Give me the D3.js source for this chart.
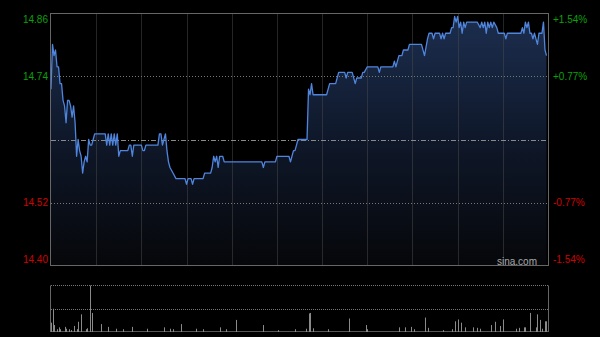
<!DOCTYPE html>
<html><head><meta charset="utf-8">
<script src="https://cdn.jsdelivr.net/npm/d3@7/dist/d3.min.js"></script>
<style>html,body{margin:0;padding:0;background:#000;}svg{display:block;}</style>
</head><body>
<svg id="c" width="600" height="337"></svg>
<script>
// ---- data ----
const prevClose = 14.63;
const pctTicks = [1.54, 0.77, -0.77, -1.54];
const priceLabels = ["14.86", "14.74", "14.52", "14.40"];
const pctLabels = ["+1.54%", "+0.77%", "-0.77%", "-1.54%"];
const timeGrid = [30, 60, 90, 120, 150, 180, 210, 240, 270, 300];
const minutes = [0,1,2,3,4,5,6,7,8,9,10,11,12,13,14,15,16,17,18,19,20,21,22,23,24,25,26,27,28,29,
  36,37,38,39,40,41,42,43,44,45,46,51,52,53,54,55,60,61,62,63,71,72,73,74,75,76,77,78,79,81,83,
  89,90,91,93,94,95,101,102,106,107,108,109,110,111,112,114,115,139,140,141,142,149,150,158,159,160,161,162,163,164,
  170,171,172,173,174,183,185,189,191,195,196,197,200,202,203,206,207,208,210,217,218,219,227,228,229,231,233,234,237,238,246,248,
  250,251,253,254,255,258,259,260,261,262,265,266,267,268,269,270,271,272,273,274,275,276,283,285,286,287,288,289,290,291,292,293,294,296,297,
  301,302,303,312,313,314,315,316,317,318,319,320,321,322,323,324,326,327,328,329];
const prices = [14.72,14.80,14.78,14.79,14.76,14.76,14.73,14.73,14.70,14.69,14.66,14.70,14.70,14.69,14.67,14.69,14.66,14.60,14.63,14.61,14.60,14.57,14.59,14.60,14.59,14.63,14.62,14.62,14.63,14.64,
  14.64,14.62,14.64,14.62,14.64,14.62,14.64,14.62,14.64,14.60,14.61,14.61,14.62,14.62,14.60,14.62,14.62,14.61,14.61,14.62,14.62,14.64,14.64,14.62,14.63,14.64,14.61,14.59,14.58,14.57,14.56,
  14.56,14.55,14.56,14.56,14.55,14.56,14.56,14.57,14.57,14.58,14.60,14.59,14.60,14.58,14.60,14.60,14.59,14.59,14.59,14.58,14.59,14.59,14.60,14.60,14.59,14.60,14.61,14.61,14.62,14.63,
  14.63,14.72,14.71,14.73,14.71,14.71,14.73,14.73,14.75,14.75,14.74,14.75,14.75,14.73,14.74,14.74,14.75,14.75,14.76,14.76,14.75,14.76,14.76,14.77,14.76,14.78,14.78,14.79,14.79,14.80,14.80,14.78,
  14.81,14.82,14.82,14.81,14.82,14.82,14.81,14.82,14.81,14.82,14.82,14.83,14.83,14.85,14.84,14.85,14.83,14.84,14.82,14.84,14.83,14.84,14.84,14.83,14.84,14.83,14.84,14.82,14.84,14.83,14.84,14.83,14.84,14.83,14.82,
  14.82,14.81,14.82,14.82,14.83,14.82,14.84,14.83,14.84,14.82,14.82,14.81,14.82,14.81,14.80,14.82,14.82,14.84,14.79,14.78];
const volMinutes = [0,1,2,4,5,6,9,10,12,13,15,17,18,20,23,24,26,27,33,38,43,48,54,64,75,79,81,86,96,101,112,116,123,141,151,162,
  169,171,172,174,184,198,209,210,231,235,239,241,248,250,260,266,268,270,272,275,280,283,285,292,295,298,300,309,311,314,315,318,322,323,325,326,328,329,330];
const volumes = [20,50,15,6,10,6,11,7,6,4,13,6,22,38,6,8,100,41,17,11,7,6,11,7,10,7,6,17,7,6,10,6,26,15,4,6,
  7,40,41,8,6,29,15,6,10,10,11,6,31,9,4,6,23,27,20,10,10,9,7,15,22,13,27,7,9,10,10,41,10,38,26,7,23,23,95];

// ---- layout ----
const svg = d3.select("#c");
const L = 51, R = 548, T = 13.5, B = 265.5;
const VT = 285.5, VB = 332;
const hi = prevClose * (1 + pctTicks[0] / 100), lo = prevClose * (1 + pctTicks[3] / 100);
const x = d3.scaleLinear().domain([0, 330]).range([L, R]);
const y = d3.scaleLinear().domain([lo, hi]).range([B, T]);
const yv = d3.scaleLinear().domain([0, 100]).range([VB, VT]);

const defs = svg.append("defs");
const g = defs.append("linearGradient").attr("id", "fillg").attr("gradientUnits", "userSpaceOnUse")
  .attr("x1", 0).attr("y1", T).attr("x2", 0).attr("y2", B);
g.append("stop").attr("offset", 0).attr("stop-color", "#1c2e4f");
g.append("stop").attr("offset", 0.5).attr("stop-color", "#0f182a");
g.append("stop").attr("offset", 1).attr("stop-color", "#06070a");

const pts = minutes.map((m, i) => [m, prices[i]]);
svg.append("path").datum(pts)
  .attr("d", d3.area().x(d => x(d[0])).y0(B).y1(d => y(d[1])))
  .attr("fill", "url(#fillg)");

// vertical grid
svg.selectAll("line.vg").data(timeGrid).join("line")
  .attr("x1", d => Math.round(x(d)) + 0.5).attr("x2", d => Math.round(x(d)) + 0.5)
  .attr("y1", T).attr("y2", B)
  .attr("stroke", "#4a4a4a").attr("stroke-dasharray", "1,1");
// horizontal grid
svg.selectAll("line.hg").data([pctTicks[1], pctTicks[2]]).join("line")
  .attr("x1", L).attr("x2", R)
  .attr("y1", d => Math.round(y(prevClose * (1 + d / 100))) + 0.5)
  .attr("y2", d => Math.round(y(prevClose * (1 + d / 100))) + 0.5)
  .attr("stroke", "#777").attr("stroke-dasharray", "1,2");
svg.append("line").attr("x1", L).attr("x2", R)
  .attr("y1", Math.round(y(prevClose)) + 0.5).attr("y2", Math.round(y(prevClose)) + 0.5)
  .attr("stroke", "#8a8a8a").attr("stroke-dasharray", "5,2,1,2");

// price line
svg.append("path").datum(pts)
  .attr("d", d3.line().x(d => x(d[0])).y(d => y(d[1])))
  .attr("fill", "none").attr("stroke", "#4f85dc").attr("stroke-width", 1.3)
  .attr("stroke-linejoin", "round");

// border
svg.append("rect").attr("x", L - 0.5).attr("y", T).attr("width", R - L + 1).attr("height", B - T)
  .attr("fill", "none").attr("stroke", "#666");

// labels
const lblY = [T + 6, null, null, B - 6];
pctTicks.forEach((p, i) => {
  const yy = lblY[i] !== null ? lblY[i] : y(prevClose * (1 + p / 100));
  const col = p > 0 ? "#0aa20a" : "#d10000";
  svg.append("text").attr("x", 48).attr("y", yy).attr("dy", "0.35em")
    .attr("text-anchor", "end").attr("font-family", "Liberation Sans, Arial, sans-serif")
    .attr("font-size", 10).attr("fill", col).text(priceLabels[i]);
  svg.append("text").attr("x", 553).attr("y", yy).attr("dy", "0.35em")
    .attr("text-anchor", "start").attr("font-family", "Liberation Sans, Arial, sans-serif")
    .attr("font-size", 10).attr("fill", col).text(pctLabels[i]);
});
svg.append("text").attr("x", 537).attr("y", 261.5).attr("dy", "0.35em").attr("text-anchor", "end")
  .attr("font-family", "Liberation Sans, Arial, sans-serif").attr("font-size", 10)
  .attr("fill", "#a8a8a8").text("sina.com");

// volume panel
svg.append("line").attr("x1", L).attr("x2", R).attr("y1", VT).attr("y2", VT)
  .attr("stroke", "#777").attr("stroke-dasharray", "1,1");
svg.append("line").attr("x1", L).attr("x2", R).attr("y1", Math.round(yv(50)) + 0.5).attr("y2", Math.round(yv(50)) + 0.5)
  .attr("stroke", "#777").attr("stroke-dasharray", "1,1");
svg.append("line").attr("x1", L).attr("x2", R).attr("y1", VB - 0.5).attr("y2", VB - 0.5)
  .attr("stroke", "#555");
svg.selectAll("line.vb").data(volMinutes.map((m, i) => [m, volumes[i]])).join("line")
  .attr("x1", d => Math.round(x(d[0])) + 0.5).attr("x2", d => Math.round(x(d[0])) + 0.5)
  .attr("y1", VB).attr("y2", d => yv(d[1]))
  .attr("stroke", "#8a8a8a").attr("stroke-width", 1);
svg.append("line").attr("x1", L - 0.5).attr("x2", L - 0.5).attr("y1", VT).attr("y2", VB).attr("stroke", "#666");
svg.append("line").attr("x1", R + 0.5).attr("x2", R + 0.5).attr("y1", VT).attr("y2", VB).attr("stroke", "#666");
</script>
</body></html>
